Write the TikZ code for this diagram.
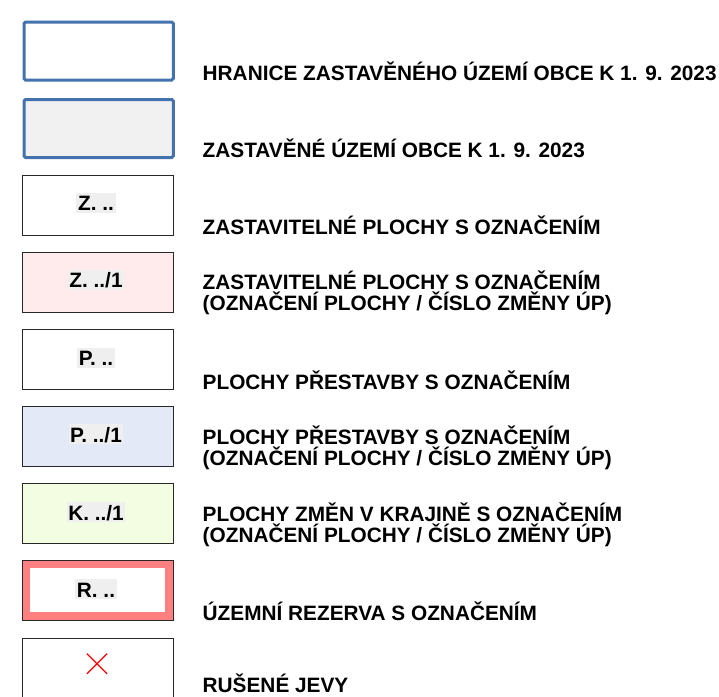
\documentclass[tikz,border=0pt]{standalone}
\usepackage{fontspec}
\setmainfont{Liberation Sans}
\usetikzlibrary{shapes.misc}
\definecolor{legblue}{RGB}{68,114,172}
\definecolor{legdark}{RGB}{40,40,40}
\definecolor{taggray}{RGB}{239,239,239}
\definecolor{zugray}{RGB}{241,241,241}
\definecolor{zpink}{RGB}{255,234,236}
\definecolor{pblue}{RGB}{227,233,246}
\definecolor{kgreen}{RGB}{242,253,226}
\definecolor{rpink}{RGB}{255,128,128}
\newcommand\descfont{\fontsize{20.8}{20.5}\selectfont\bfseries}
\newcommand\tagfont{\fontsize{20.8}{20.5}\selectfont\bfseries}
\begin{document}
\begin{tikzpicture}[x=1pt,y=-1pt,
  legbox/.style={minimum width=151pt,minimum height=60pt,inner sep=0pt,anchor=north west},
  bluebox/.style={legbox,draw=legblue,line width=3pt,rounded corners=1.5pt,minimum width=149.3pt,minimum height=58pt},
  blackbox/.style={legbox,draw=legdark,line width=1pt},
  tag/.style={fill=taggray,font=\tagfont,inner xsep=1.6pt,inner ysep=2.3pt,text height=15.4pt,text depth=0pt,anchor=base},
  desc/.style={font=\descfont,inner sep=0pt,anchor=base west,align=left}]
\useasboundingbox (0,0) rectangle (719,696);
% row 1
\node[bluebox] (b1) at (22.5,20.5) {};
\node[desc] (t1) at (202.5,80.5) {HRANICE ZASTAVĚNÉHO ÚZEMÍ OBCE K 1. 9. 2023};
% row 2
\node[bluebox,fill=zugray] (b2) at (22.5,98) {};
\node[desc] (t2) at (202.5,157.5) {ZASTAVĚNÉ ÚZEMÍ OBCE K 1. 9. 2023};
% row 3
\node[blackbox,fill=white] (b3) at (21.5,174.5) {};
\node[tag] (l3) at (96,210.5) {Z. ..};
\node[desc] (t3) at (202.5,234.5) {ZASTAVITELNÉ PLOCHY S OZNAČENÍM};
% row 4
\node[blackbox,fill=zpink] (b4) at (21.5,251.5) {};
\node[tag] (l4) at (96,287.5) {Z. ../1};
\node[desc] (t4) at (202.5,310) {ZASTAVITELNÉ PLOCHY S OZNAČENÍM\\(OZNAČENÍ PLOCHY / ČÍSLO ZMĚNY ÚP)};
% row 5
\node[blackbox,fill=white] (b5) at (21.5,328.5) {};
\node[tag] (l5) at (96,365.5) {P. ..};
\node[desc] (t5) at (202.5,389) {PLOCHY PŘESTAVBY S OZNAČENÍM};
% row 6
\node[blackbox,fill=pblue] (b6) at (21.5,405.5) {};
\node[tag] (l6) at (96,442) {P. ../1};
\node[desc] (t6) at (202.5,465) {PLOCHY PŘESTAVBY S OZNAČENÍM\\(OZNAČENÍ PLOCHY / ČÍSLO ZMĚNY ÚP)};
% row 7
\node[blackbox,fill=kgreen] (b7) at (21.5,482.5) {};
\node[tag] (l7) at (96,520) {K. ../1};
\node[desc] (t7) at (202.5,542) {PLOCHY ZMĚN V KRAJINĚ S OZNAČENÍM\\(OZNAČENÍ PLOCHY / ČÍSLO ZMĚNY ÚP)};
% row 8
\node[blackbox,fill=rpink] (b8) at (21.5,559.5) {};
\node[fill=white,minimum width=135pt,minimum height=44pt,inner sep=0pt] (b8i) at (b8.center) {};
\node[tag] (l8) at (96,597) {R. ..};
\node[desc] (t8) at (202.5,620) {ÚZEMNÍ REZERVA S OZNAČENÍM};
% row 9
\node[blackbox,fill=white] (b9) at (21.5,637.5) {};
\node[cross out,draw=red,line width=1.2pt,minimum size=19pt,inner sep=0pt] (x9) at (97,663.7) {};
\node[desc,text depth=0pt] (t9) at (202.5,692.5) {RUŠENÉ JEVY};
\end{tikzpicture}
\end{document}
